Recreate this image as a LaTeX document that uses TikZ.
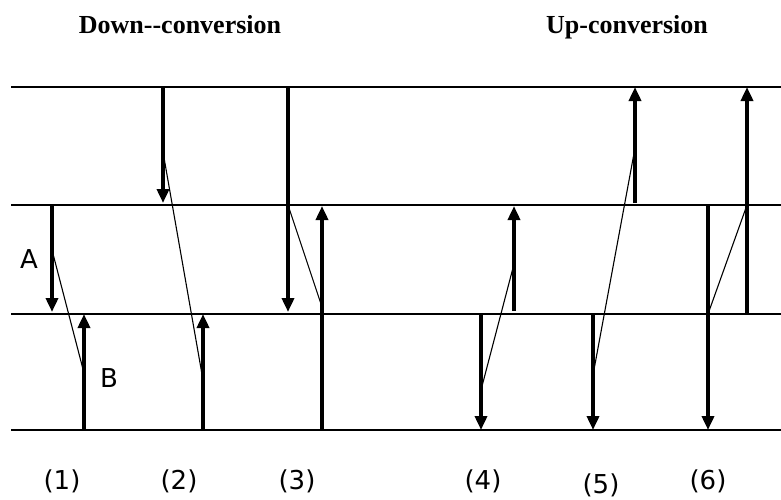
\documentclass[tikz,border=0pt]{standalone}
\usepackage{fontspec}
\setmainfont{DejaVu Sans}
\newfontfamily\titlefont{Liberation Serif}
\usetikzlibrary{arrows.meta}

\begin{document}
\begin{tikzpicture}[x=1pt, y=-1pt,
          level/.style={line width=1.6pt},
          jump/.style={line width=3.5pt, -{Triangle[width=12pt, length=14pt]}},
          link/.style={line width=1.1pt},
          lbl/.style={font=\fontsize{26}{30}\selectfont},
          num/.style={font=\fontsize{26}{30}\selectfont},
          ttl/.style={font=\titlefont\bfseries\fontsize{26}{30}\selectfont, anchor=base},
        ]
          \useasboundingbox (0,0) rectangle (781,499);
          % energy levels
          \foreach \n/\y in {1/87, 2/205, 3/314, 4/430} {
            \coordinate (w\n) at (11, \y);
            \coordinate (e\n) at (781, \y);
            \draw[level] (w\n) -- (e\n);
          }
          % (1)
          \coordinate (d1s) at ( 52, 205);
          \coordinate (d1e) at ( 52, 312);
          \coordinate (d1m) at ( 52, 250);
          \coordinate (u1s) at ( 84, 430);
          \coordinate (u1e) at ( 84, 314);
          \coordinate (u1m) at ( 84, 373);
          \draw[jump] (d1s) -- (d1e);
          \draw[jump] (u1s) -- (u1e);
          \draw[link] (d1m) -- (u1m);
          % (2)
          \coordinate (d2s) at (163,  87);
          \coordinate (d2e) at (163, 203);
          \coordinate (d2m) at (163, 152);
          \coordinate (u2s) at (203, 430);
          \coordinate (u2e) at (203, 314);
          \coordinate (u2m) at (203, 380);
          \draw[jump] (d2s) -- (d2e);
          \draw[jump] (u2s) -- (u2e);
          \draw[link] (d2m) -- (u2m);
          % (3)
          \coordinate (d3s) at (288,  87);
          \coordinate (d3e) at (288, 312);
          \coordinate (d3m) at (288, 205);
          \coordinate (u3s) at (322, 430);
          \coordinate (u3e) at (322, 206);
          \coordinate (u3m) at (322, 307);
          \draw[jump] (d3s) -- (d3e);
          \draw[jump] (u3s) -- (u3e);
          \draw[link] (d3m) -- (u3m);
          % (4)
          \coordinate (d4s) at (481, 314);
          \coordinate (d4e) at (481, 430);
          \coordinate (d4m) at (481, 390);
          \coordinate (u4s) at (514, 311);
          \coordinate (u4e) at (514, 206);
          \coordinate (u4m) at (514, 264);
          \draw[jump] (d4s) -- (d4e);
          \draw[jump] (u4s) -- (u4e);
          \draw[link] (d4m) -- (u4m);
          % (5)
          \coordinate (d5s) at (593, 314);
          \coordinate (d5e) at (593, 430);
          \coordinate (d5m) at (593, 375);
          \coordinate (u5s) at (635, 203);
          \coordinate (u5e) at (635,  87);
          \coordinate (u5m) at (635, 148);
          \draw[jump] (d5s) -- (d5e);
          \draw[jump] (u5s) -- (u5e);
          \draw[link] (d5m) -- (u5m);
          % (6)
          \coordinate (d6s) at (708, 205);
          \coordinate (d6e) at (708, 430);
          \coordinate (d6m) at (708, 314);
          \coordinate (u6s) at (747, 314);
          \coordinate (u6e) at (747,  87);
          \coordinate (u6m) at (747, 205);
          \draw[jump] (d6s) -- (d6e);
          \draw[jump] (u6s) -- (u6e);
          \draw[link] (d6m) -- (u6m);
          % labels
          \node[lbl] (A) at ( 29, 259) {A};
          \node[lbl] (B) at (109, 378) {B};
          \node[num] (n1) at ( 62, 481) {(1)};
          \node[num] (n2) at (179, 481) {(2)};
          \node[num] (n3) at (297, 481) {(3)};
          \node[num] (n4) at (483, 481) {(4)};
          \node[num] (n5) at (601, 485) {(5)};
          \node[num] (n6) at (708, 481) {(6)};
          \node[ttl] (down) at (180, 33) {Down-{}-conversion};
          \node[ttl] (up)   at (627, 33) {Up-conversion};
        \end{tikzpicture}
\end{document}
